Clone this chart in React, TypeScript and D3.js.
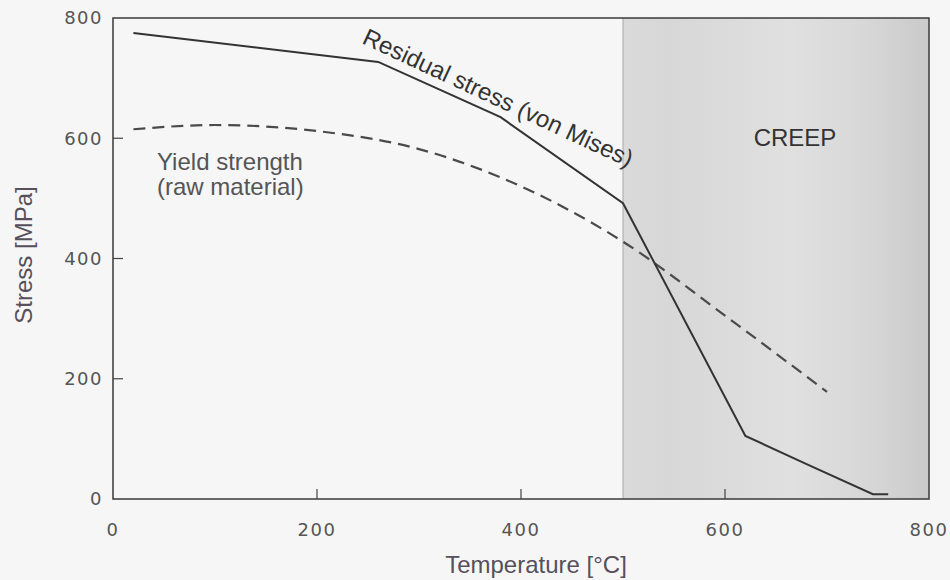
import { useEffect, useRef } from "react";
import * as d3 from "d3";

// Residual stress (von Mises) vs temperature
const residualTemp = [20, 260, 380, 500, 620, 680, 745, 760];
const residualStress = [775, 727, 635, 492, 105, 58, 8, 8];

// Yield strength of raw material (dashed)
const yieldTemp = [20, 100, 200, 300, 400, 500, 600, 700];
const yieldStress = [615, 622, 612, 582, 520, 428, 305, 178];

const xTicks = [0, 200, 400, 600, 800];
const yTicks = [0, 200, 400, 600, 800];

const creepRange = [500, 800];

const width = 950;
const height = 580;

export default function App() {
  const svgRef = useRef<SVGSVGElement>(null);

  useEffect(() => {
    if (!svgRef.current) return;
    const svg = d3.select(svgRef.current);
    svg.selectAll("*").remove();

    const x = d3.scaleLinear().domain([0, 800]).range([113, 929]);
    const y = d3.scaleLinear().domain([0, 800]).range([499, 18]);

    // page background
    svg.append("rect").attr("width", width).attr("height", height).attr("fill", "#f6f6f6");

    // creep shading
    const defs = svg.append("defs");
    const grad = defs
      .append("linearGradient")
      .attr("id", "creepGrad")
      .attr("x1", "0")
      .attr("x2", "1")
      .attr("y1", "0")
      .attr("y2", "0");
    grad.append("stop").attr("offset", "0").attr("stop-color", "#dadada");
    grad.append("stop").attr("offset", "0.15").attr("stop-color", "#d7d7d7");
    grad.append("stop").attr("offset", "0.55").attr("stop-color", "#e0e0e0");
    grad.append("stop").attr("offset", "0.8").attr("stop-color", "#d7d7d7");
    grad.append("stop").attr("offset", "1").attr("stop-color", "#cacaca");

    svg
      .append("rect")
      .attr("x", x(creepRange[0]))
      .attr("y", y(800))
      .attr("width", x(creepRange[1]) - x(creepRange[0]))
      .attr("height", y(0) - y(800))
      .attr("fill", "url(#creepGrad)");

    svg
      .append("line")
      .attr("x1", x(creepRange[0]))
      .attr("x2", x(creepRange[0]))
      .attr("y1", y(800))
      .attr("y2", y(0))
      .attr("stroke", "#a8a8a8")
      .attr("stroke-width", 1);

    // frame
    svg
      .append("rect")
      .attr("x", x(0))
      .attr("y", y(800))
      .attr("width", x(800) - x(0))
      .attr("height", y(0) - y(800))
      .attr("fill", "none")
      .attr("stroke", "#3a3a3a")
      .attr("stroke-width", 1.5);

    // inward ticks
    const tickFont = "'DejaVu Sans', sans-serif";
    xTicks.forEach((t) => {
      if (t > 0 && t < 800) {
        svg
          .append("line")
          .attr("x1", x(t))
          .attr("x2", x(t))
          .attr("y1", y(0))
          .attr("y2", y(0) - 10)
          .attr("stroke", "#444")
          .attr("stroke-width", 1.2);
      }
      svg
        .append("text")
        .attr("x", x(t))
        .attr("y", 536)
        .attr("text-anchor", "middle")
        .attr("font-family", tickFont)
        .attr("font-size", 18)
        .attr("letter-spacing", 1.5)
        .attr("fill", "#555")
        .text(t);
    });
    yTicks.forEach((t) => {
      if (t > 0 && t < 800) {
        svg
          .append("line")
          .attr("x1", x(0))
          .attr("x2", x(0) + 10)
          .attr("y1", y(t))
          .attr("y2", y(t))
          .attr("stroke", "#444")
          .attr("stroke-width", 1.2);
      }
      svg
        .append("text")
        .attr("x", 103)
        .attr("y", y(t))
        .attr("dy", "0.36em")
        .attr("text-anchor", "end")
        .attr("font-family", tickFont)
        .attr("font-size", 18)
        .attr("letter-spacing", 1.5)
        .attr("fill", "#555")
        .text(t);
    });

    const labelFont = "'Liberation Sans', Arial, sans-serif";

    // axis titles
    svg
      .append("text")
      .attr("x", 536)
      .attr("y", 573)
      .attr("text-anchor", "middle")
      .attr("font-family", labelFont)
      .attr("font-size", 24)
      .attr("fill", "#57505a")
      .text("Temperature [°C]");

    svg
      .append("text")
      .attr("transform", "translate(32,255) rotate(-90)")
      .attr("text-anchor", "middle")
      .attr("font-family", labelFont)
      .attr("font-size", 24)
      .attr("fill", "#57505a")
      .text("Stress [MPa]");

    // curves
    const residualLine = d3
      .line<number>()
      .x((d, i) => x(residualTemp[i]))
      .y((d) => y(d));

    const yieldLine = d3
      .line<number>()
      .x((d, i) => x(yieldTemp[i]))
      .y((d) => y(d))
      .curve(d3.curveMonotoneX);

    svg
      .append("path")
      .attr("d", yieldLine(yieldStress) as string)
      .attr("fill", "none")
      .attr("stroke", "#4a4a4a")
      .attr("stroke-width", 2.2)
      .attr("stroke-dasharray", "12 7");

    svg
      .append("path")
      .attr("d", residualLine(residualStress) as string)
      .attr("fill", "none")
      .attr("stroke", "#333")
      .attr("stroke-width", 2);

    // annotations
    svg
      .append("text")
      .attr("transform", "translate(361,43) rotate(25)")
      .attr("font-family", labelFont)
      .attr("font-size", 24)
      .attr("fill", "#333")
      .text("Residual stress (von Mises)");

    svg
      .append("text")
      .attr("x", 157)
      .attr("y", 170)
      .attr("font-family", labelFont)
      .attr("font-size", 24)
      .attr("fill", "#555")
      .text("Yield strength");
    svg
      .append("text")
      .attr("x", 157)
      .attr("y", 195)
      .attr("font-family", labelFont)
      .attr("font-size", 24)
      .attr("fill", "#555")
      .text("(raw material)");

    svg
      .append("text")
      .attr("x", 795)
      .attr("y", 146)
      .attr("text-anchor", "middle")
      .attr("font-family", labelFont)
      .attr("font-size", 24)
      .attr("fill", "#333")
      .text("CREEP");
  }, []);

  return (
    <svg
      ref={svgRef}
      width={width}
      height={height}
      style={{ position: "absolute", left: 0, top: 0, display: "block" }}
    />
  );
}
